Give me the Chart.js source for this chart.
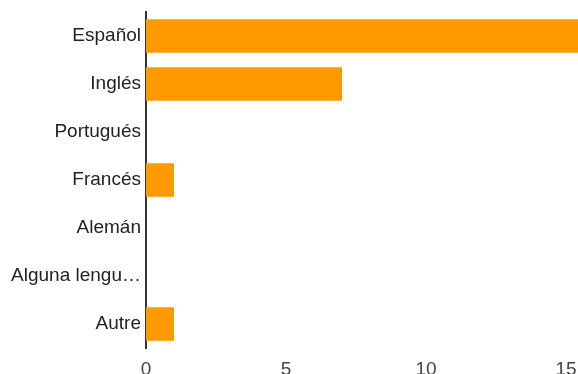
<!DOCTYPE html>
<html>
<head>
<meta charset="utf-8">
<script src="https://cdn.jsdelivr.net/npm/chart.js@4"></script>
<style>
  html, body { margin: 0; padding: 0; background: #fff; overflow: hidden; width: 578px; height: 374px; }
  #wrap { width: 720px; height: 400px; }
</style>
</head>
<body>
<div id="wrap"><canvas id="chart" width="720" height="400"></canvas></div>
<script>
const languages = ['Español', 'Inglés', 'Portugués', 'Francés', 'Alemán', 'Alguna lengu…', 'Autre']
const counts = [16, 7, 0, 1, 0, 0, 1]
const xTicks = [0, 5, 10, 15, 20]

new Chart(document.getElementById('chart'), {
  type: 'bar',
  data: {
    labels: languages,
    datasets: [{
      data: counts,
      backgroundColor: '#ff9900',
      barPercentage: 0.7,
      categoryPercentage: 1
    }]
  },
  options: {
    indexAxis: 'y',
    responsive: false,
    animation: false,
    layout: { padding: { top: 12, right: 14, left: 0, bottom: 0 } },
    plugins: { legend: { display: false }, tooltip: { enabled: false } },
    scales: {
      x: {
        min: xTicks[0],
        max: xTicks[xTicks.length - 1],
        afterBuildTicks: s => { s.ticks = xTicks.map(v => ({ value: v })) },
        grid: { display: false, drawTicks: false },
        border: { display: false },
        ticks: { color: '#444', padding: 10, font: { family: 'Liberation Sans', size: 19 } },
        afterFit: s => { s.height = 52; s.paddingLeft = 0; s.paddingRight = 0 }
      },
      y: {
        grid: { display: false, drawTicks: false },
        border: { display: true, color: '#333', width: 2 },
        ticks: { color: '#222', padding: 5, font: { family: 'Liberation Sans', size: 19 } },
        afterFit: s => { s.width = 146; s.paddingTop = 0; s.paddingBottom = 0 }
      }
    }
  }
})
</script>
</body>
</html>
